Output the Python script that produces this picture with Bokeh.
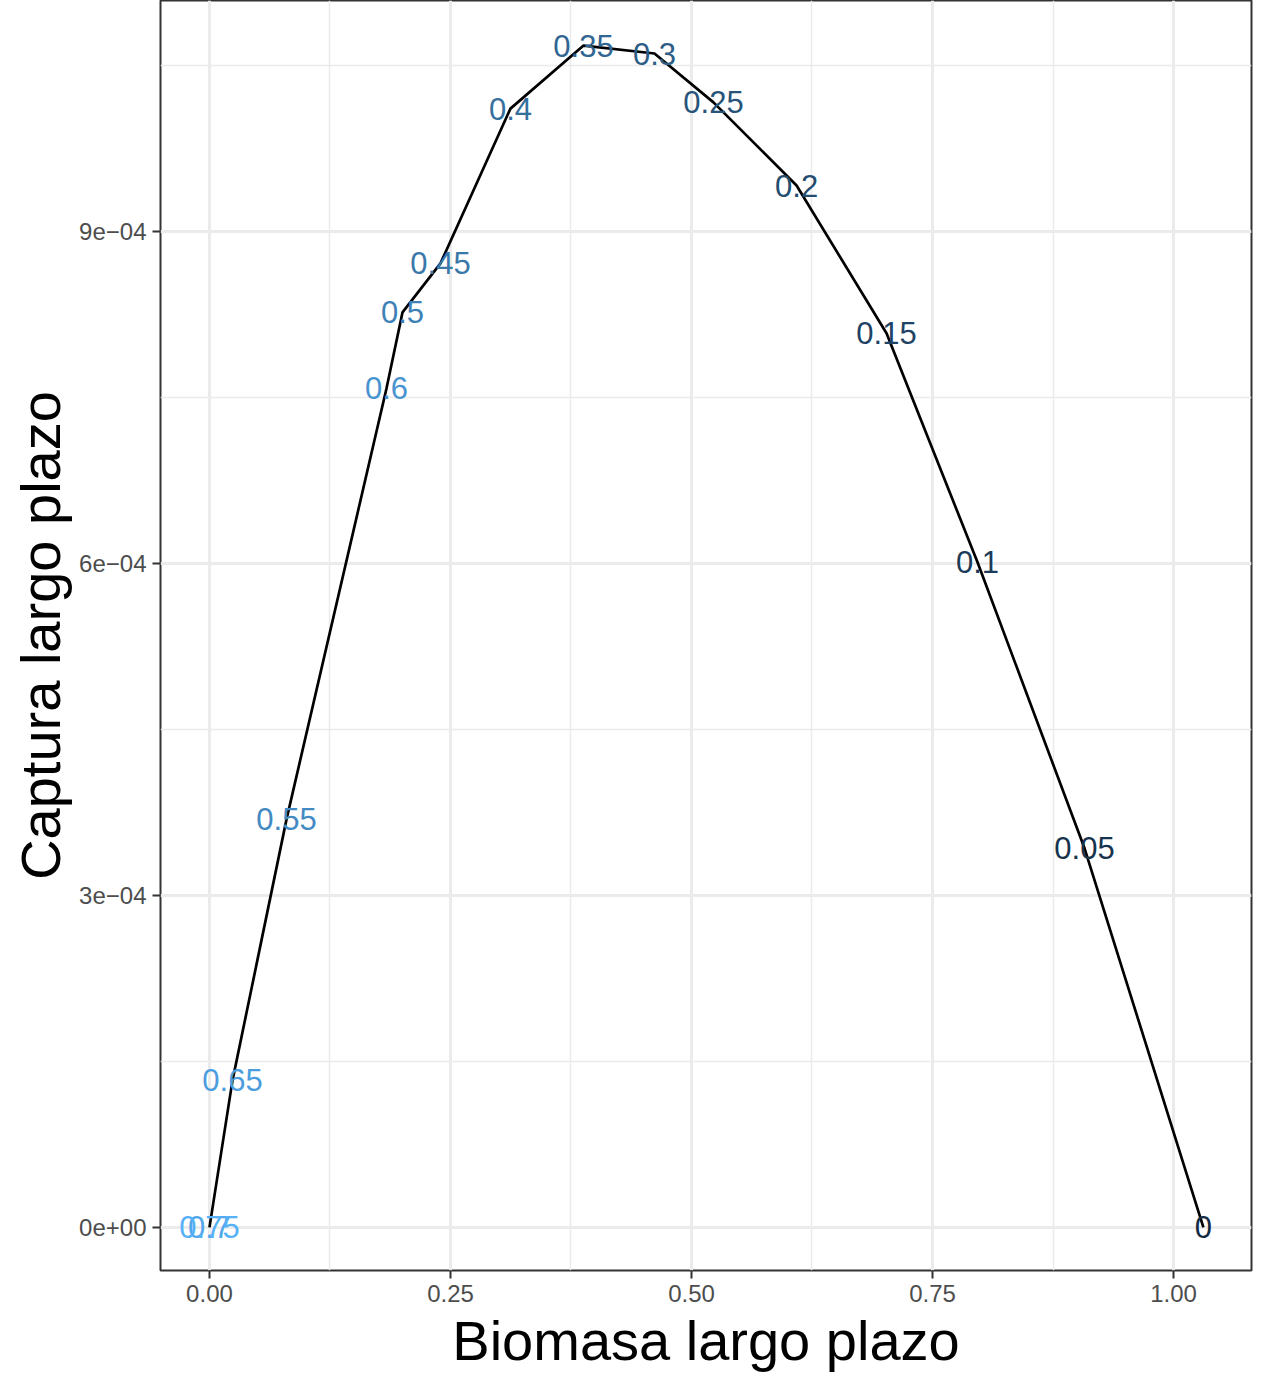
from bokeh.plotting import figure
from bokeh.models import Range1d, FixedTicker, ColumnDataSource
from bokeh.embed import file_html
from bokeh.resources import INLINE
from bokeh.core.properties import value

# ---- data ----
f_labels = ["0", "0.05", "0.1", "0.15", "0.2", "0.25", "0.3", "0.35", "0.4",
            "0.45", "0.5", "0.55", "0.6", "0.65", "0.7", "0.75"]
f_values = [0.0, 0.05, 0.1, 0.15, 0.2, 0.25, 0.3, 0.35, 0.4,
            0.45, 0.5, 0.55, 0.6, 0.65, 0.7, 0.75]
biomasa = [1.031, 0.9077, 0.7967, 0.7023, 0.609, 0.5228, 0.4616, 0.388, 0.3122,
           0.2396, 0.2002, 0.0799, 0.1836, 0.0239, 0.0, 0.0]
captura = [0.0, 3.425e-4, 6.01e-4, 8.08e-4, 9.415e-4, 1.0166e-3, 1.0608e-3, 1.068e-3, 1.011e-3,
           8.711e-4, 8.268e-4, 3.687e-4, 7.581e-4, 1.328e-4, 0.0, 0.0]

x_ticks = [0.0, 0.25, 0.5, 0.75, 1.0]
x_tick_labels = ["0.00", "0.25", "0.50", "0.75", "1.00"]
y_ticks = [0.0, 3e-4, 6e-4, 9e-4]
y_tick_labels = ["0e+00", "3e\u221204", "6e\u221204", "9e\u221204"]
x_minor = [0.125, 0.375, 0.625, 0.875]
y_minor = [1.5e-4, 4.5e-4, 7.5e-4, 1.05e-3]

# ---- colour scale (ggplot default gradient, Lab interpolation) ----
LOW, HIGH = "#132B43", "#56B1F7"

def _to_lab(h):
    r, g, b = [int(h[i:i + 2], 16) / 255 for i in (1, 3, 5)]
    def lin(c):
        return c / 12.92 if c <= 0.04045 else ((c + 0.055) / 1.055) ** 2.4
    r, g, b = lin(r), lin(g), lin(b)
    X = (0.4124 * r + 0.3576 * g + 0.1805 * b) / 0.95047
    Y = (0.2126 * r + 0.7152 * g + 0.0722 * b)
    Z = (0.0193 * r + 0.1192 * g + 0.9505 * b) / 1.08883
    def f(t):
        return t ** (1 / 3) if t > 0.008856 else 7.787 * t + 16 / 116
    fx, fy, fz = f(X), f(Y), f(Z)
    return (116 * fy - 16, 500 * (fx - fy), 200 * (fy - fz))

def _from_lab(L, a, bb):
    fy = (L + 16) / 116
    fx = fy + a / 500
    fz = fy - bb / 200
    def finv(t):
        return t ** 3 if t ** 3 > 0.008856 else (t - 16 / 116) / 7.787
    X, Y, Z = finv(fx) * 0.95047, finv(fy), finv(fz) * 1.08883
    r = 3.2406 * X - 1.5372 * Y - 0.4986 * Z
    g = -0.9689 * X + 1.8758 * Y + 0.0415 * Z
    b = 0.0557 * X - 0.2040 * Y + 1.0570 * Z
    def gam(c):
        c = max(0.0, min(1.0, c))
        return 12.92 * c if c <= 0.0031308 else 1.055 * c ** (1 / 2.4) - 0.055
    return "#%02x%02x%02x" % tuple(int(round(gam(c) * 255)) for c in (r, g, b))

lo, hi = _to_lab(LOW), _to_lab(HIGH)
fmin, fmax = min(f_values), max(f_values)
label_colors = []
for fv in f_values:
    t = (fv - fmin) / (fmax - fmin)
    label_colors.append(_from_lab(*[lo[i] + t * (hi[i] - lo[i]) for i in range(3)]))

# ---- figure ----
p = figure(width=1259, height=1374, output_backend="svg", toolbar_location=None,
           x_range=Range1d(-0.0508, 1.0809), y_range=Range1d(-3.9e-5, 1.1087e-3),
           min_border_left=160, min_border_right=8, min_border_top=0, min_border_bottom=0)
p.background_fill_color = "white"
p.border_fill_color = "white"
p.outline_line_color = "#333333"
p.outline_line_width = 2

# line (sorted by x, as geom_line does)
order = sorted(range(len(biomasa)), key=lambda i: biomasa[i])
p.line([biomasa[i] for i in order], [captura[i] for i in order],
       line_color="black", line_width=2.7)

src = ColumnDataSource(dict(x=biomasa, y=captura, t=f_labels, c=label_colors))
p.text(x="x", y="y", text="t", source=src, text_color="c",
       text_align="center", text_baseline="middle",
       text_font=value("Liberation Sans"), text_font_size="31px")

p.xaxis.ticker = FixedTicker(ticks=x_ticks, minor_ticks=x_minor)
p.yaxis.ticker = FixedTicker(ticks=y_ticks, minor_ticks=y_minor)
p.xaxis.major_label_overrides = dict(zip(x_ticks, x_tick_labels))
p.yaxis.major_label_overrides = dict(zip(y_ticks, y_tick_labels))

for ax in (p.xaxis, p.yaxis):
    ax.axis_line_color = None
    ax.major_tick_line_color = "#333333"
    ax.major_tick_line_width = 2
    ax.major_tick_out = 8
    ax.major_tick_in = 0
    ax.minor_tick_line_color = None
    ax.major_label_text_font = "Liberation Sans"
    ax.major_label_text_font_size = "24px"
    ax.major_label_text_color = "#4D4D4D"
    ax.major_label_standoff = 6
    ax.axis_label_text_font = "Liberation Sans"
    ax.axis_label_text_font_size = "56px"
    ax.axis_label_text_font_style = "normal"
    ax.axis_label_text_color = "black"
    ax.axis_label_standoff = 4

p.xaxis.axis_label = "Biomasa largo plazo"
p.yaxis.axis_label = "Captura largo plazo"

for g in (p.xgrid, p.ygrid):
    g.grid_line_color = "#EBEBEB"
    g.grid_line_width = 3
    g.minor_grid_line_color = "#EBEBEB"
    g.minor_grid_line_width = 1.5

open("out.html", "w").write(file_html(p, INLINE))
